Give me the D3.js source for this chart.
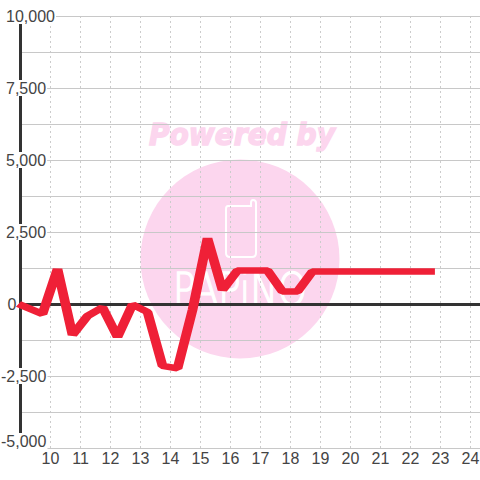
<!DOCTYPE html>
<html>
<head>
<meta charset="utf-8">
<script src="https://cdn.jsdelivr.net/npm/d3@7"></script>
<style>
html, body { margin: 0; padding: 0; background: #fff; }
svg { display: block; }
text { font-family: "Liberation Sans", sans-serif; }
.grid line, .vgrid line { shape-rendering: crispEdges; }
.grid path, .vgrid path, .xlabels path, .xlabels line { display: none; }
</style>
</head>
<body>
<div id="chart"></div>
<script>
var hours = [8.95, 9.75, 10.25, 10.75, 11.25, 11.75, 12.25, 12.75, 13.25, 13.75, 14.25, 14.75, 15.25, 15.75, 16.25, 16.75, 17.25, 17.75, 18.25, 18.75, 22.83]
var values = [20, -330, 1230, -1060, -400, -100, -1130, 0, -260, -2130, -2220, -190, 2300, 500, 1180, 1180, 1180, 450, 450, 1150, 1150]

var yGridTicks = [10000, 8750, 7500, 6250, 5000, 3750, 2500, 1250, 0, -1250, -2500, -3750, -5000]
var yLabelTicks = [10000, 7500, 5000, 2500, 0, -2500, -5000]
var xTicks = [10, 11, 12, 13, 14, 15, 16, 17, 18, 19, 20, 21, 22, 23, 24]

var size = 480

var svg = d3.select("#chart")
    .append("svg")
    .attr("width", size)
    .attr("height", size)

var x = d3.scaleLinear().domain([9, 24.333]).range([20, 480])
var y = d3.scaleLinear().domain([-5000, 10000]).range([448, 16])

// watermark goes under the grid
var mark = svg.append("g")

mark.append("circle")
    .attr("cx", 240)
    .attr("cy", 259)
    .attr("r", 99.5)
    .style("fill", "#fcd6ee")

mark.append("text")
    .attr("x", 242)
    .attr("y", 145)
    .attr("text-anchor", "middle")
    .attr("textLength", 186)
    .attr("lengthAdjust", "spacingAndGlyphs")
    .style("font-size", "31px")
    .style("font-weight", "bold")
    .style("font-style", "italic")
    .style("font-family", "'DejaVu Sans', sans-serif")
    .style("fill", "#fcd6ee")
    .style("stroke", "#fcd6ee")
    .style("stroke-width", 1.5)
    .text("Powered by")

mark.append("path")
    .attr("d", "M228,206 Q226,206 226,209 L226,253 Q226,257 230,257 L252,257 Q256,257 256,253 L256,203 Q256,200 253,200 Q251,200 251,203 L251,206 Z")
    .style("fill", "none")
    .style("stroke", "#fff")
    .style("stroke-width", 2)

mark.append("text")
    .attr("x", 240)
    .attr("y", 305)
    .attr("text-anchor", "middle")
    .attr("textLength", 134)
    .attr("lengthAdjust", "spacingAndGlyphs")
    .style("font-size", "44px")
    .style("font-family", "'DejaVu Sans', sans-serif")
    .style("font-weight", 200)
    .style("fill", "#fff")
    .style("stroke", "#fff")
    .style("stroke-width", 1.5)
    .text("PAPiNO")

// dotted verticals
svg.append("g")
    .attr("class", "vgrid")
    .attr("transform", "translate(0,448)")
    .call(d3.axisBottom(x).tickValues(xTicks).tickSize(-432).tickFormat(""))
    .selectAll("line")
    .style("stroke", "#cccccc")
    .style("stroke-dasharray", "2,3")

// horizontals
svg.append("g")
    .attr("class", "grid")
    .attr("transform", "translate(20,0)")
    .call(d3.axisLeft(y).tickValues(yGridTicks).tickSize(-460).tickFormat(""))
    .selectAll("line")
    .style("stroke", "#c8c8c8")

// thick y axis and zero line
svg.append("line")
    .attr("x1", x(9) + 0.5)
    .attr("x2", x(9) + 0.5)
    .attr("y1", y(10000))
    .attr("y2", y(-5000))
    .style("stroke", "#333")
    .style("stroke-width", 3)

svg.append("line")
    .attr("x1", x(9))
    .attr("x2", size)
    .attr("y1", y(0) + 0.5)
    .attr("y2", y(0) + 0.5)
    .style("stroke", "#333")
    .style("stroke-width", 3)

// y labels sit on white boxes that break the axis and the grid
var yLabels = svg.append("g")
    .selectAll("g")
    .data(yLabelTicks)
    .enter()
    .append("g")
    .attr("transform", function(d) { return "translate(0," + (d == -5000 ? y(d) - 7 : y(d)) + ")" })

var yText = yLabels.append("text")
    .attr("x", function(d) { return d < 0 ? 1 : (d == 0 ? 7.5 : 6) })
    .attr("dy", "0.35em")
    .style("font-size", "16px")
    .style("fill", "#444")
    .text(function(d) { return d3.format(",")(d).replace("−", "-") })

yLabels.insert("rect", "text")
    .each(function() {
        var box = this.nextSibling.getBBox()
        d3.select(this)
            .attr("x", box.x)
            .attr("y", -8)
            .attr("width", box.width + 1)
            .attr("height", 16)
            .style("fill", "#fff")
    })

// x labels
var xAxis = svg.append("g")
    .attr("class", "xlabels")
    .attr("transform", "translate(0,448)")
    .call(d3.axisBottom(x).tickValues(xTicks).tickSize(0).tickPadding(5))

xAxis.selectAll("text")
    .style("font-size", "16px")
    .style("font-family", "'Liberation Sans', sans-serif")
    .style("fill", "#444")

// the stroke in the reference is wider across than it is tall, so the path is drawn squeezed and stretched back
var strokeStretch = 1.5

var line = d3.line()
    .x(function(d, i) { return x(hours[i]) / strokeStretch })
    .y(function(d) { return y(d) + 0.5 })

svg.append("path")
    .datum(values)
    .attr("d", line)
    .attr("transform", "scale(" + strokeStretch + ",1)")
    .style("fill", "none")
    .style("stroke", "#ef2037")
    .style("stroke-width", 6.5)
    .style("stroke-linejoin", "bevel")
</script>
</body>
</html>
